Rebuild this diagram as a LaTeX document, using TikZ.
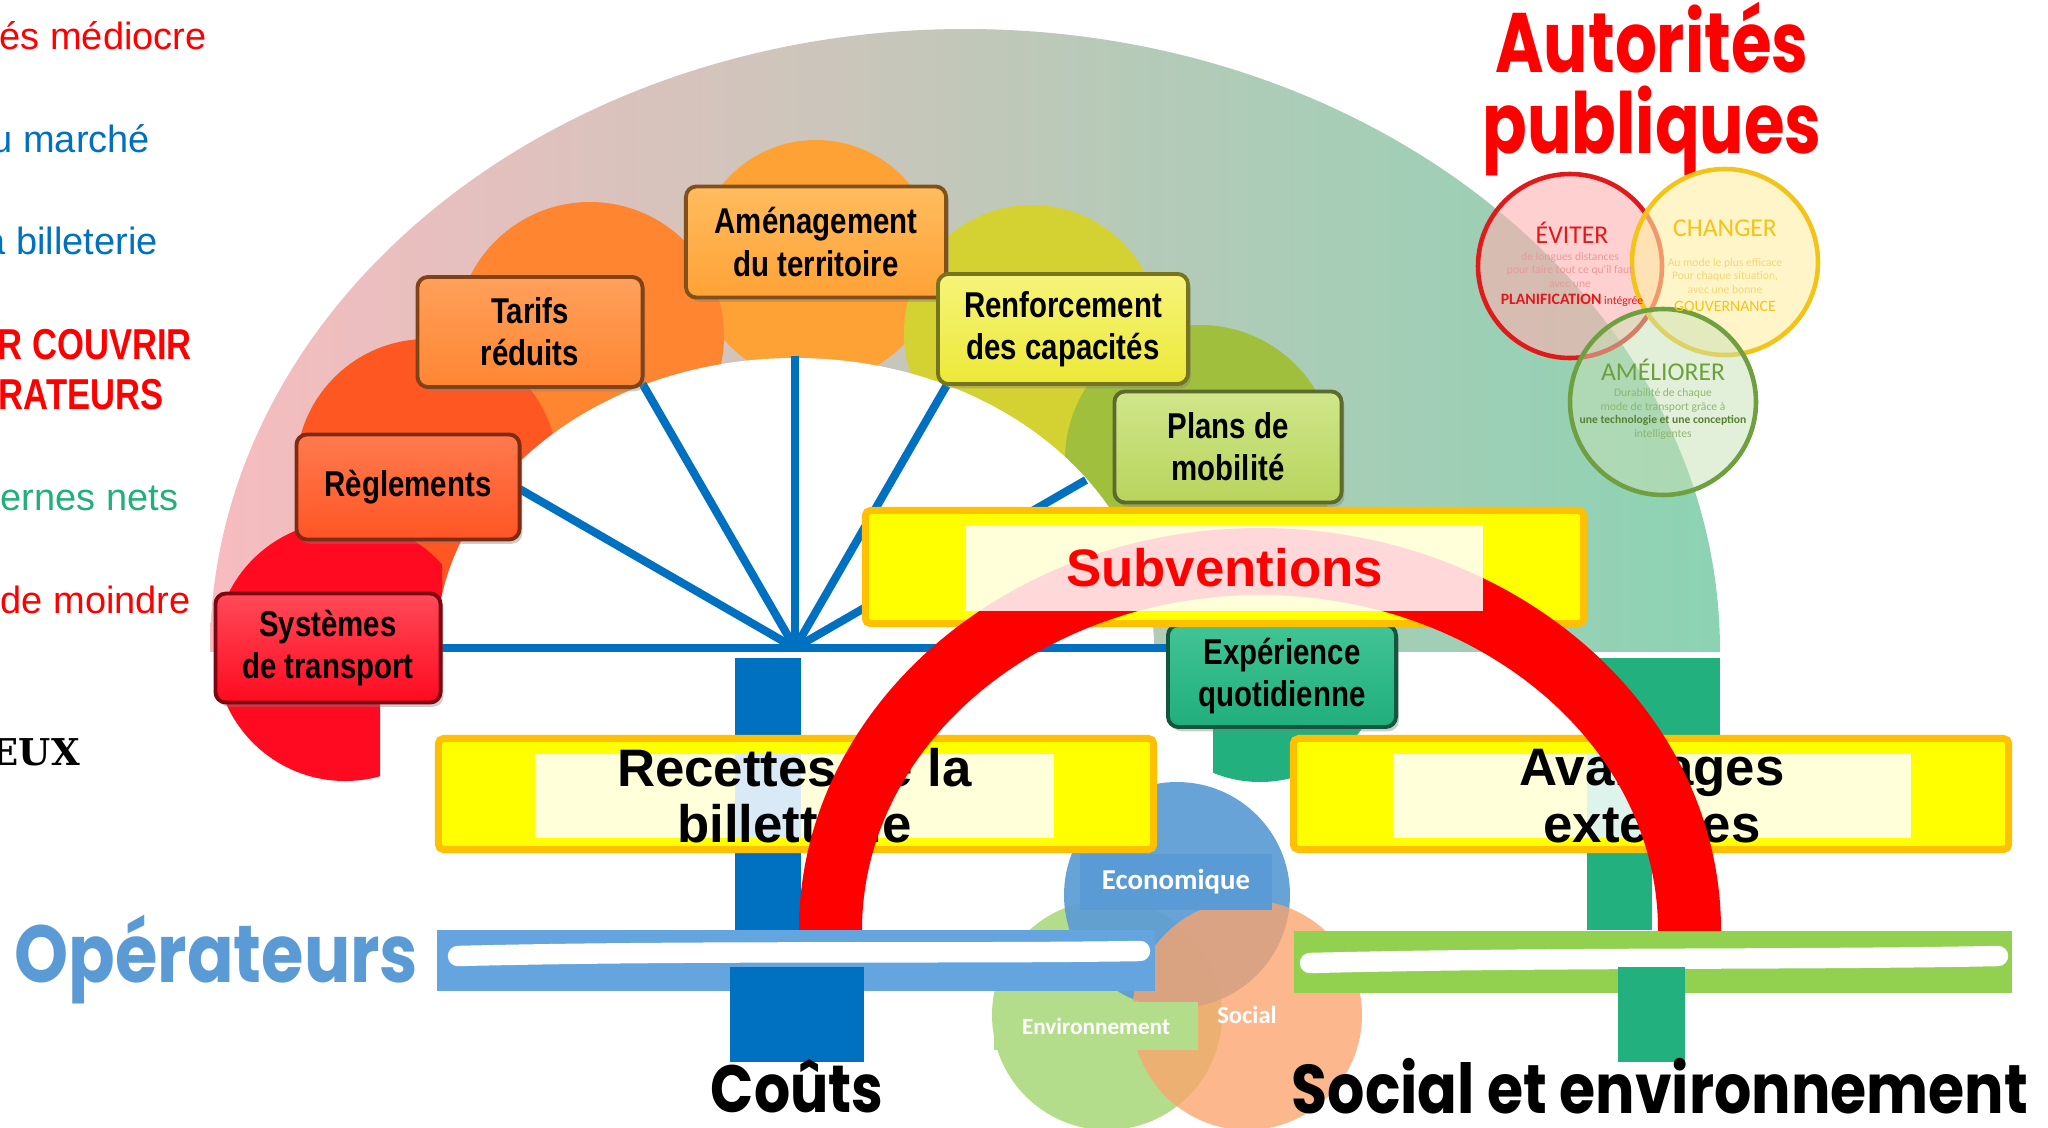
\documentclass[tikz,border=0pt]{standalone}
\usepackage{fontspec}
\setmainfont{Liberation Sans}
\newfontfamily\tilefont[FakeStretch=0.82]{Liberation Sans}
\newfontfamily\narrowfont[FakeStretch=0.8]{Liberation Sans}
\newfontfamily\roundfont[FakeStretch=0.85]{Poppins}
\newfontfamily\headfont[FakeStretch=0.78]{Poppins}
\newfontfamily\calfont{Carlito}
\newfontfamily\slabfont{DejaVu Serif}
\usetikzlibrary{shadows}

% colours
\definecolor{bgPink}{HTML}{F7BCC0}
\definecolor{bgMid}{HTML}{D6C4BE}
\definecolor{bgGreen}{HTML}{8CD3B3}
\definecolor{petalA}{HTML}{FF0A20}
\definecolor{petalB}{HTML}{FF5722}
\definecolor{petalC}{HTML}{FF8530}
\definecolor{petalD}{HTML}{FFA236}
\definecolor{petalE}{HTML}{D4D232}
\definecolor{petalF}{HTML}{A0BF3C}
\definecolor{petalG}{HTML}{22B07E}
\definecolor{sysTop}{HTML}{FF4A58}
\definecolor{sysBot}{HTML}{FF0A20}
\definecolor{reglTop}{HTML}{FF7A4E}
\definecolor{reglBot}{HTML}{FF5524}
\definecolor{tarTop}{HTML}{FFA05A}
\definecolor{tarBot}{HTML}{FF8632}
\definecolor{amenTop}{HTML}{FFBC5E}
\definecolor{amenBot}{HTML}{FFA236}
\definecolor{renfTop}{HTML}{F6F47A}
\definecolor{renfBot}{HTML}{ECE838}
\definecolor{planTop}{HTML}{D0E68A}
\definecolor{planBot}{HTML}{B8D45C}
\definecolor{expTop}{HTML}{42C496}
\definecolor{expBot}{HTML}{20AE7C}
\definecolor{spokeBlue}{HTML}{0070C0}
\definecolor{fundYellow}{HTML}{FFFF00}
\definecolor{fundOrange}{HTML}{FFC000}
\definecolor{archRed}{HTML}{FF0000}
\definecolor{barBlue}{HTML}{64A5E0}
\definecolor{barGreen}{HTML}{92D050}
\definecolor{vennBlue}{HTML}{5B9BD5}
\definecolor{vennGreen}{HTML}{B3DD8A}
\definecolor{vennOrange}{HTML}{FBA46C}
\definecolor{opBlue}{HTML}{5B9BD5}
\definecolor{txtRed}{HTML}{FF0000}
\definecolor{txtBlue}{HTML}{0070C0}
\definecolor{txtGreen}{HTML}{21B07A}
\definecolor{avoidRed}{HTML}{E01A1A}
\definecolor{avoidFill}{HTML}{FFB0B0}
\definecolor{avoidSoft}{HTML}{E89A9A}
\definecolor{shiftGold}{HTML}{F2C419}
\definecolor{shiftFill}{HTML}{FFEEA3}
\definecolor{shiftSoft}{HTML}{F0D878}
\definecolor{improveGreen}{HTML}{6EA040}
\definecolor{improveFill}{HTML}{C8E1B4}
\definecolor{improveSoft}{HTML}{8DB870}

\tikzset{
    tile/.style={rounded corners=3pt, line width=1.1pt, inner sep=0pt, align=center,
        font=\tilefont\bfseries\fontsize{10.2}{12}\selectfont,
        drop shadow={shadow xshift=0.8pt, shadow yshift=-1.2pt, opacity=0.4}},
    tilecol/.style 2 args={top color=#1, bottom color=#2, draw=#2!50!black},
    spoke/.style={draw=spokeBlue, line width=2.3pt},
    fundframe/.style={fill=fundYellow, draw=fundOrange, line width=2pt, rounded corners=1.5pt, inner sep=0pt},
    fundpane/.style={fill=white, fill opacity=0.85, inner sep=0pt},
    fundtext/.style={align=center, inner sep=0pt, font=\bfseries\fontsize{15}{16}\selectfont},
    brush/.style={draw=white, line width=5.8pt, line cap=round},
    leftnote/.style={anchor=base west, inner sep=0pt, font=\fontsize{10.8}{12}\selectfont},
    ringtitle/.style={inner sep=0pt, font=\calfont\fontsize{7.3}{8}\selectfont},
    ringsmall/.style={inner sep=0pt, align=center, font=\calfont\fontsize{3.3}{3.8}\selectfont},
    vennlabel/.style={inner sep=0pt, text=white, font=\calfont\bfseries}
}

\begin{document}
\begin{tikzpicture}[x=0.01cm, y=-0.01cm]
    \useasboundingbox (0,0) rectangle (2048,1127);

    % Background arch with colour fade
    \begin{scope}
        \clip (0,0) rectangle (2048,651);
        \shade[left color=bgPink, middle color=bgMid, right color=bgGreen] (965,651) ellipse [x radius=755, y radius=622];
    \end{scope}

    % Petals behind the boxes
    \fill[petalD] (816,261) circle (121);
    \fill[petalE] (1032,333) circle (128);
    \fill[petalF] (1200,460) circle (135);
    \begin{scope}
        \clip (1213,600) rectangle (1400,800);
        \fill[petalG] (1260,658) circle (124);
    \end{scope}
    \fill[petalC] (590,336) circle (134);
    \fill[petalB] (427,470) circle (131);
    \begin{scope}
        \clip (0,0) rectangle (442,648) (0,648) rectangle (380,800);
        \fill[petalA] (345,651) circle (130);
    \end{scope}

    % White half disc
    \begin{scope}
        \clip (0,0) rectangle (2048,648);
        \fill[white] (795,648) ellipse [x radius=359, y radius=290];
    \end{scope}

    % Spokes of the fan
    \coordinate (hub) at (795,648);
    \foreach \ang/\len [count=\i] in {180/357, 150/318, 120/305, 90/292, 60/303, 30/336, 0/376}
        \path (hub) ++(-\ang:\len) coordinate (sp\i);
    \foreach \i in {1,...,7}
        \draw[spoke] (hub) -- (sp\i);

    % Policy boxes
    \node[tile, tilecol={sysTop}{sysBot}, minimum width=2.25cm, minimum height=1.09cm] (sys) at (328,648) {Systèmes\\de transport};
    \node[tile, tilecol={reglTop}{reglBot}, minimum width=2.23cm, minimum height=1.05cm] (regl) at (408,487) {Règlements};
    \node[tile, tilecol={tarTop}{tarBot}, minimum width=2.25cm, minimum height=1.10cm] (tarifs) at (530,332) {Tarifs\\réduits};
    \node[tile, tilecol={amenTop}{amenBot}, minimum width=2.60cm, minimum height=1.11cm] (amen) at (816,242) {Aménagement\\du territoire};
    \node[tile, tilecol={renfTop}{renfBot}, minimum width=2.50cm, minimum height=1.10cm] (renf) at (1063,329) {Renforcement\\des capacités};
    \node[tile, tilecol={planTop}{planBot}, minimum width=2.27cm, minimum height=1.11cm] (plans) at (1228,447) {Plans de\\mobilité};
    \node[tile, tilecol={expTop}{expBot}, minimum width=2.28cm, minimum height=1.02cm] (exper) at (1282,676) {Expérience\\quotidienne};

    % Pillars
    \fill[spokeBlue] (735,658) rectangle (801,930);
    \fill[petalG] (1587,658) rectangle (1720,735);
    \fill[petalG] (1587,735) rectangle (1652,930);

    % Three pillars of sustainability
    \fill[vennGreen] (1107,1015) circle (115);
    \fill[vennBlue, fill opacity=0.92] (1177,895) circle (113);
    \fill[vennOrange, fill opacity=0.78] (1247,1015) circle (115);

    % Funding boxes
    \node[fundframe, minimum width=7.15cm, minimum height=1.11cm] (recBox) at (796,794) {};
    \fill[spokeBlue] (735,754) rectangle (801,838);
    \node[fundpane, minimum width=5.19cm, minimum height=0.84cm] (recPane) at (794.5,796) {};
    \node[fundtext] (recText) at (recPane) {Recettes de la\\billetterie};

    \node[fundframe, minimum width=7.15cm, minimum height=1.11cm] (avBox) at (1651,794) {};
    \fill[petalG] (1587,754) rectangle (1652,838);
    \node[fundpane, minimum width=5.18cm, minimum height=0.84cm] (avPane) at (1652,796) {};
    \node[fundtext] (avText) at (avPane) {Avantages\\externes};

    \node[fundframe, minimum width=7.18cm, minimum height=1.13cm] (subBox) at (1224.5,567) {};

    % Red arch of subsidies
    \begin{scope}
        \clip (0,0) rectangle (2048,930);
        \fill[archRed, even odd rule] (1260,930) ellipse [x radius=461, y radius=402]
            (1260,930) ellipse [x radius=398, y radius=335];
    \end{scope}

    \node[fundpane, minimum width=5.17cm, minimum height=0.86cm] (subPane) at (1224.5,568) {};
    \node[fundtext, text=txtRed] (subText) at (subPane) {Subventions};

    % Operator and society bars
    \fill[barBlue] (437,930) rectangle (1155,991);
    \draw[brush] (458,956) .. controls (700,950) and (950,954) .. (1140,951);
    \fill[barGreen] (1294,931) rectangle (2012,993);
    \draw[brush] (1310,963) .. controls (1550,957) and (1800,960) .. (1998,956);
    \fill[spokeBlue] (730,967) rectangle (864,1062);
    \fill[petalG] (1618,967) rectangle (1685,1062);

    % Labels of the three pillars
    \node[vennlabel, fill=vennBlue, font=\calfont\bfseries\fontsize{8.2}{9}\selectfont, minimum width=1.91cm, minimum height=0.55cm] (ecoLbl) at (1176,882) {Economique};
    \node[vennlabel, fill=vennGreen, font=\calfont\bfseries\fontsize{6.6}{7}\selectfont, minimum width=2.03cm, minimum height=0.48cm] (envLbl) at (1096,1026) {Environnement};
    \node[vennlabel, font=\calfont\bfseries\fontsize{7}{8}\selectfont] (socLbl) at (1247,1015) {Social};

    % Titles
    \node[font=\roundfont\bfseries\fontsize{19}{20}\selectfont] (couts) at (797,1086) {Coûts};
    \node[font=\roundfont\bfseries\fontsize{19.6}{20}\selectfont] (socEnv) at (1660,1086) {Social et environnement};
    \node[anchor=west, inner sep=0pt, text=opBlue, font=\roundfont\bfseries\fontsize{23}{25}\selectfont] (operateurs) at (14,960) {Opérateurs};
    \node[align=center, text=txtRed, font=\headfont\bfseries\fontsize{24}{23}\selectfont] (autorites) at (1652,89) {Autorités\\publiques};

    % Notes cut at the left edge
    \node[leftnote, text=txtRed] (note1) at (-1,50) {és médiocre};
    \node[leftnote, text=txtBlue] (note2) at (-9,152) {u marché};
    \node[leftnote, text=txtBlue] (note3) at (-16,254) {a billeterie};
    \node[leftnote, text=txtRed, font=\narrowfont\bfseries\fontsize{12.3}{14}\selectfont] (note4) at (-3,359) {R COUVRIR};
    \node[leftnote, text=txtRed, font=\narrowfont\bfseries\fontsize{12.3}{14}\selectfont] (note5) at (-2,409) {RATEURS};
    \node[leftnote, text=txtGreen] (note6) at (0,510) {ernes nets};
    \node[leftnote, text=txtRed] (note7) at (0,613) {de moindre};
    \node[leftnote, font=\slabfont\bfseries\fontsize{10.5}{12}\selectfont] (note8) at (-10,765) {EUX};

    % Avoid, shift, improve
    \filldraw[fill=avoidFill, fill opacity=0.6, draw=avoidRed, line width=1.3pt] (1570,266) circle (92);
    \filldraw[fill=shiftFill, fill opacity=0.6, draw=shiftGold, line width=1.3pt] (1725,262) circle (93);
    \filldraw[fill=improveFill, fill opacity=0.5, draw=improveGreen, line width=1.3pt] (1663,402) circle (93);

    \node[ringtitle, text=avoidRed] (eviter) at (1572,233) {ÉVITER};
    \node[ringsmall, text=avoidSoft] (eviterTxt) at (1570,270) {de longues distances\\pour faire tout ce qu'il faut\\avec une};
    \node[inner sep=0pt, text=avoidRed, font=\calfont\fontsize{3.3}{4}\selectfont] (planif) at (1572,300) {{\bfseries\fontsize{4.5}{5}\selectfont PLANIFICATION} intégrée};

    \node[ringtitle, text=shiftGold] (changer) at (1725,228) {CHANGER};
    \node[ringsmall, text=shiftSoft] (changerTxt) at (1725,276) {Au mode le plus efficace\\Pour chaque  situation,\\avec une bonne};
    \node[inner sep=0pt, text=shiftGold, font=\calfont\fontsize{4.5}{5}\selectfont] (gouv) at (1725,306) {GOUVERNANCE};

    \node[ringtitle, text=improveGreen] (ameliorer) at (1663,370) {AMÉLIORER};
    \node[ringsmall, text=improveSoft] (amelTxt) at (1663,414) {Durabilité de chaque\\mode de transport grâce à\\{\bfseries\color{improveGreen!80!black}une technologie et une conception}\\intelligentes};
\end{tikzpicture}
\end{document}
